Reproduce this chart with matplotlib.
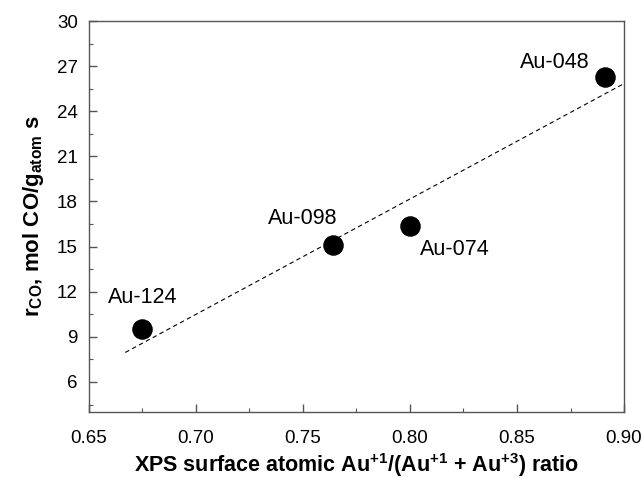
import numpy as np
import matplotlib
matplotlib.use('Agg')
import matplotlib.pyplot as plt
from matplotlib.ticker import MultipleLocator

plt.rcParams['font.family'] = ['Liberation Sans', 'DejaVu Sans']
plt.rcParams['mathtext.default'] = 'regular'

# data
samples = ['Au-124', 'Au-098', 'Au-074', 'Au-048']
au_ratio = [0.675, 0.764, 0.800, 0.891]
rate_co = [9.5, 15.1, 16.4, 26.3]

fig = plt.figure(figsize=(6.44, 4.78), dpi=100)
ax = fig.add_axes([0.138, 0.138, 0.831, 0.818])

ax.scatter(au_ratio, rate_co, s=190, color='black', zorder=3)

# linear fit drawn as a dashed line
slope, icpt = np.polyfit(au_ratio, rate_co, 1)
xf = np.array([0.667, 0.90])
ax.plot(xf, slope * xf + icpt, color='black', lw=0.8, ls=(0, (4, 3)))

# label offsets in points
offsets = {'Au-124': (0, 23), 'Au-098': (-22, 19), 'Au-074': (32, -17), 'Au-048': (-36, 10)}
for name, xv, yv in zip(samples, au_ratio, rate_co):
    ax.annotate(name, (xv, yv), xytext=offsets[name], textcoords='offset points',
                ha='center', va='center', fontsize=15.5)

ax.set_xlim(0.65, 0.90)
ax.set_ylim(4, 30)
ax.xaxis.set_major_locator(MultipleLocator(0.05))
ax.xaxis.set_minor_locator(MultipleLocator(0.025))
ax.yaxis.set_major_locator(MultipleLocator(3))
ax.yaxis.set_minor_locator(MultipleLocator(1.5))
ax.xaxis.set_major_formatter(plt.FormatStrFormatter('%.2f'))

ax.tick_params(which='both', direction='in', top=False, right=False, labelsize=13.5, color='#555555')
ax.tick_params(which='major', length=6, width=1.0, pad=13)
ax.tick_params(axis='y', which='major', pad=8)
ax.tick_params(which='minor', length=3, width=0.8)
for sp in ax.spines.values():
    sp.set_color('#555555')
    sp.set_linewidth(1.0)

ax.set_xlabel('XPS surface atomic Au$^{+1}$/(Au$^{+1}$ + Au$^{+3}$) ratio',
              fontsize=15.5, fontweight='bold', labelpad=3)
ax.set_ylabel('r$_{CO}$, mol CO/g$_{atom}$ s', fontsize=16, fontweight='bold', labelpad=8)

fig.savefig('out.png', dpi=100)
